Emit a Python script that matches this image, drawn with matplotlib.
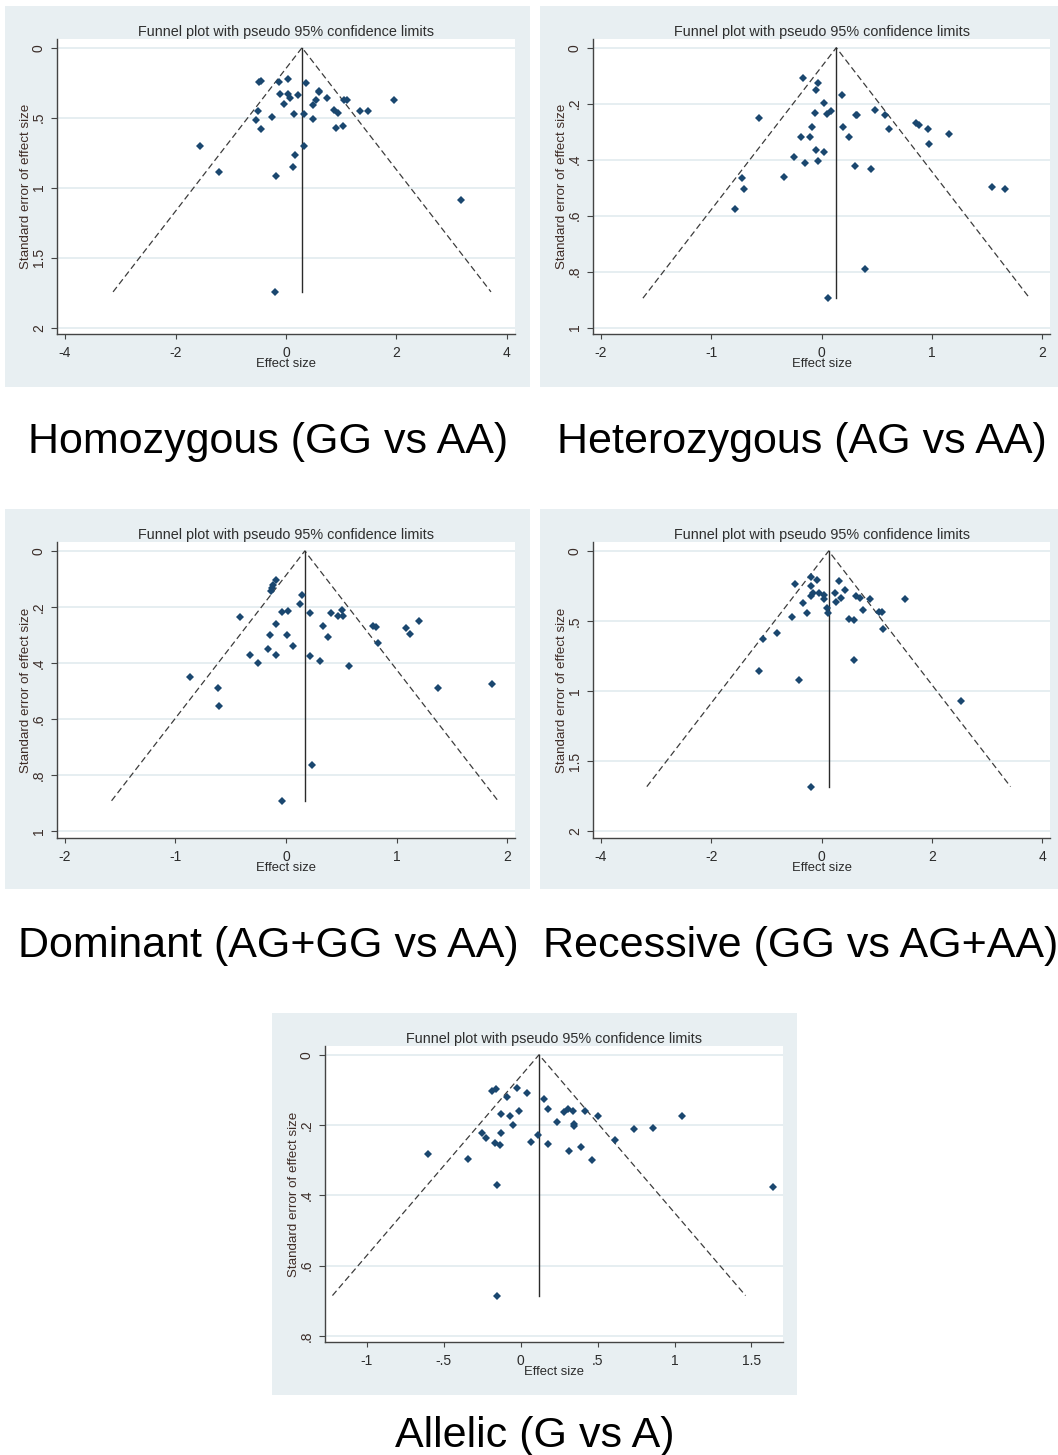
import numpy as np
import matplotlib.pyplot as plt
from matplotlib.patches import Rectangle

plt.rcParams['font.family'] = ['Liberation Sans', 'DejaVu Sans']

W, H = 1058, 1455
NAVY = '#1a476f'
PANEL_BG = '#e8eff2'
GRID = '#e6eef1'

# Homozygous (GG vs AA)
homo_es = [-0.48, -0.46, -0.12, 0.04, 0.36, 0.59, 0.60, -0.10, 0.04, 0.08,
           0.21, 0.54, 0.75, 1.05, 1.10, 1.96, -0.04, 0.48, -0.50, 0.86,
           0.94, 1.34, 1.48, -0.25, 0.15, 0.32, 0.48, -0.55, -0.45, 0.91,
           1.04, -1.56, 0.32, 0.17, 0.12, -1.21, -0.18, 3.16, -0.20]
homo_se = [0.245, 0.237, 0.248, 0.226, 0.250, 0.310, 0.320, 0.333, 0.330, 0.357,
           0.336, 0.374, 0.360, 0.374, 0.374, 0.374, 0.400, 0.412, 0.452, 0.445,
           0.469, 0.452, 0.452, 0.493, 0.476, 0.476, 0.507, 0.514, 0.581, 0.571,
           0.562, 0.702, 0.702, 0.767, 0.855, 0.886, 0.917, 1.090, 1.745]
homo_pooled = 0.29

# Heterozygous (AG vs AA)
het_es = [-0.168, -0.035, -0.047, 0.183, 0.023, -0.567, -0.056, 0.050, 0.089, 0.316,
          0.322, 0.485, 0.573, -0.089, 0.192, 0.615, 0.854, 0.881, 0.963, 1.153,
          -0.188, -0.107, 0.254, 0.972, -0.047, 0.023, -0.246, -0.147, -0.029, 0.301,
          0.452, -0.718, -0.337, -0.700, -0.788, 1.546, 1.661, 0.392, 0.059]
het_se = [0.110, 0.127, 0.151, 0.168, 0.199, 0.250, 0.235, 0.238, 0.226, 0.242,
          0.242, 0.223, 0.242, 0.282, 0.282, 0.289, 0.270, 0.276, 0.289, 0.310,
          0.320, 0.320, 0.318, 0.344, 0.364, 0.373, 0.392, 0.411, 0.404, 0.423,
          0.432, 0.467, 0.462, 0.506, 0.576, 0.498, 0.506, 0.789, 0.895]
het_pooled = 0.134

# Dominant (AG+GG vs AA)
dom_es = [-0.094, -0.115, -0.124, -0.139, 0.146, 0.124, -0.035, 0.020, 0.216, 0.406,
          0.467, 0.504, 0.513, -0.415, -0.094, 0.337, 0.783, 0.811, 1.202, 1.087,
          1.121, -0.146, 0.008, 0.382, 0.829, 0.066, -0.164, -0.323, -0.094, 0.216,
          -0.256, 0.305, 0.568, -0.866, -0.614, 1.378, 1.862, -0.605, 0.238, -0.035]
dom_se = [0.105, 0.121, 0.131, 0.143, 0.158, 0.188, 0.218, 0.215, 0.223, 0.223,
          0.231, 0.210, 0.231, 0.235, 0.262, 0.267, 0.267, 0.270, 0.250, 0.274,
          0.298, 0.301, 0.301, 0.306, 0.329, 0.340, 0.349, 0.373, 0.373, 0.376,
          0.400, 0.392, 0.412, 0.451, 0.490, 0.490, 0.475, 0.554, 0.765, 0.892]
dom_pooled = 0.170

# Recessive (GG vs AG+AA)
rec_es = [-0.196, -0.474, -0.196, -0.076, 0.317, 0.420, -0.154, -0.196, -0.045, 0.045,
          0.045, 0.238, 0.360, 0.269, 0.632, 0.705, 0.886, 1.508, -0.341, 0.100,
          0.118, 0.753, 1.043, 1.097, -0.263, -0.535, 0.499, 0.589, 1.109, -0.813,
          -1.067, 0.583, -1.134, -0.414, 2.532, -0.196]
rec_se = [0.183, 0.236, 0.248, 0.210, 0.217, 0.281, 0.302, 0.319, 0.298, 0.314,
          0.343, 0.302, 0.336, 0.362, 0.319, 0.338, 0.345, 0.345, 0.369, 0.410,
          0.440, 0.424, 0.433, 0.433, 0.445, 0.469, 0.488, 0.495, 0.560, 0.588,
          0.629, 0.776, 0.855, 0.919, 1.069, 1.683]
rec_pooled = 0.130

# Allelic (G vs A)
all_es = [-0.185, -0.163, -0.026, 0.044, -0.086, 0.154, 0.176, -0.011, -0.127, -0.068,
          0.279, 0.308, 0.341, 0.417, 0.501, 1.048, 0.233, 0.345, 0.345, -0.048,
          0.734, 0.861, -0.250, -0.127, 0.110, -0.228, 0.613, 0.066, -0.167, -0.136,
          0.176, 0.395, 0.316, -0.602, -0.343, 0.466, -0.152, 1.643, -0.152]
all_se = [0.104, 0.097, 0.094, 0.109, 0.121, 0.125, 0.154, 0.160, 0.169, 0.175,
          0.164, 0.155, 0.159, 0.159, 0.175, 0.175, 0.191, 0.198, 0.202, 0.201,
          0.210, 0.208, 0.222, 0.222, 0.227, 0.238, 0.242, 0.247, 0.250, 0.257,
          0.254, 0.263, 0.273, 0.282, 0.296, 0.299, 0.371, 0.377, 0.685]
all_pooled = 0.119

# axis ticks
wide_x = [-4, -2, 0, 2, 4]
wide_x_lbl = ['-4', '-2', '0', '2', '4']
wide_y = [0, 0.5, 1, 1.5, 2]
wide_y_lbl = ['0', '.5', '1', '1.5', '2']
narrow_x = [-2, -1, 0, 1, 2]
narrow_x_lbl = ['-2', '-1', '0', '1', '2']
narrow_y = [0, 0.2, 0.4, 0.6, 0.8, 1]
narrow_y_lbl = ['0', '.2', '.4', '.6', '.8', '1']
allelic_x = [-1, -0.5, 0, 0.5, 1, 1.5]
allelic_x_lbl = ['-1', '-.5', '0', '.5', '1', '1.5']
allelic_y = [0, 0.2, 0.4, 0.6, 0.8]
allelic_y_lbl = ['0', '.2', '.4', '.6', '.8']

captions = ['Homozygous (GG vs AA)', 'Heterozygous (AG vs AA)',
            'Dominant (AG+GG vs AA)', 'Recessive (GG vs AG+AA)',
            'Allelic (G vs A)']

# pixel boxes: background (l, t, r, b), axes (l, t, r, b), caption (x, baseline)
panels = [
    (homo_es, homo_se, homo_pooled, (-4.145, 4.145), (2.048, -0.06),
     wide_x, wide_x_lbl, wide_y, wide_y_lbl,
     (5, 6, 530, 387), (57, 39.3, 515, 334.3), (268, 453.5)),
    (het_es, het_se, het_pooled, (-2.073, 2.073), (1.024, -0.03),
     narrow_x, narrow_x_lbl, narrow_y, narrow_y_lbl,
     (540, 6, 1058, 387), (593, 39.3, 1050, 334.3), (802, 453.5)),
    (dom_es, dom_se, dom_pooled, (-2.072, 2.072), (1.026, -0.031),
     narrow_x, narrow_x_lbl, narrow_y, narrow_y_lbl,
     (5, 509, 530, 889), (57, 542.3, 515, 838.3), (268, 957)),
    (rec_es, rec_se, rec_pooled, (-4.145, 4.145), (2.052, -0.062),
     wide_x, wide_x_lbl, wide_y, wide_y_lbl,
     (540, 509, 1058, 889), (593, 542.3, 1050, 838.3), (801, 957)),
    (all_es, all_se, all_pooled, (-1.272, 1.705), (0.818, -0.025),
     allelic_x, allelic_x_lbl, allelic_y, allelic_y_lbl,
     (272, 1013, 797, 1395), (325, 1046, 783, 1342.3), (535, 1447)),
]


def px_rect(box):
    l, t, r, b = box
    return [l / W, 1 - b / H, (r - l) / W, (b - t) / H]


def funnel(ax, es, se, pooled, xlim, ylim, xt, xtl, yt, ytl, ax_box):
    semax = max(se)
    ax.set_facecolor('white')
    for y in yt:
        ax.axhline(y, color=GRID, lw=1.4, zorder=0)
    half = 1.96 * semax
    ax.plot([pooled - half, pooled, pooled + half], [semax, 0, semax],
            ls=(0, (5, 2.8)), color='#3c3c3c', lw=0.9)
    ax.plot([pooled, pooled], [0, semax], color='#2a2a2a', lw=1.0)
    ax.plot(es, se, ls='none', marker='D', ms=3.9, color=NAVY, mew=0)

    ax.set_xlim(xlim)
    ax.set_ylim(ylim)
    ax.set_xticks(xt)
    ax.set_xticklabels(xtl)
    ax.set_yticks(yt)
    ax.set_yticklabels(ytl, rotation=90, va='center')
    ax.tick_params(axis='x', length=3.8, width=0.8, pad=4.5, labelsize=10,
                   color='#444444', labelcolor='#2b2b2b')
    ax.tick_params(axis='y', length=4.0, width=0.8, pad=4.0, labelsize=10,
                   color='#444444', labelcolor='#3a2c28')
    for s in ('top', 'right'):
        ax.spines[s].set_visible(False)
    for s in ('left', 'bottom'):
        ax.spines[s].set_color('#444444')
        ax.spines[s].set_linewidth(1.0)

    wpx = ax_box[2] - ax_box[0]
    hpx = ax_box[3] - ax_box[1]
    ax.set_title('Funnel plot with pseudo 95% confidence limits',
                 fontsize=10.4, color='#2e2e2e', pad=2.2)
    ax.set_xlabel('Effect size', fontsize=9.4, color='#2b2b2b')
    ax.xaxis.set_label_coords(0.5, -24 / hpx)
    ax.set_ylabel('Standard error of effect size', fontsize=9.6, color='#3f2c26')
    ax.yaxis.set_label_coords(-25 / wpx, 0.5)


fig = plt.figure(figsize=(W / 100, H / 100), dpi=100)
fig.patch.set_facecolor('white')

for (es, se, pooled, xlim, ylim, xt, xtl, yt, ytl, bg_box, ax_box, cap), title in zip(panels, captions):
    r = px_rect(bg_box)
    fig.patches.append(Rectangle((r[0], r[1]), r[2], r[3],
                                 transform=fig.transFigure, facecolor=PANEL_BG,
                                 edgecolor='none', zorder=-5))
    ax = fig.add_axes(px_rect(ax_box))
    ax.set_zorder(2)
    funnel(ax, es, se, pooled, xlim, ylim, xt, xtl, yt, ytl, ax_box)
    fig.text(cap[0] / W, 1 - cap[1] / H, title, fontsize=31, ha='center',
             va='baseline', color='black')

fig.savefig('out.png', dpi=100)
